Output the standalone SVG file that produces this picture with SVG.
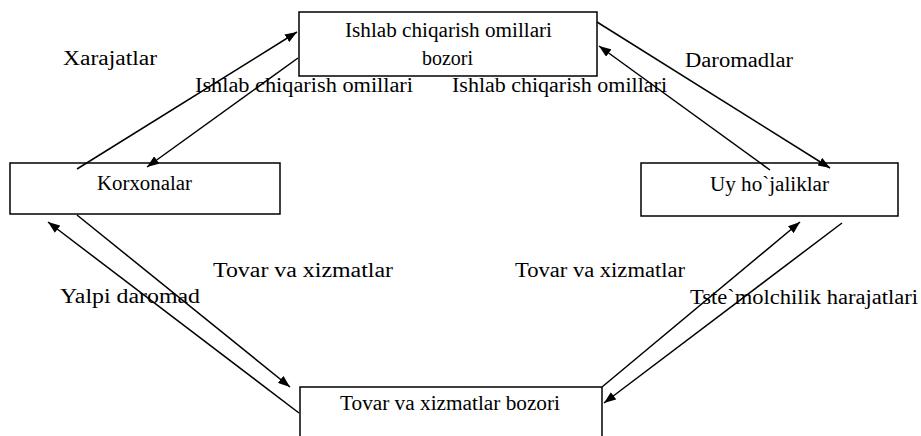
<svg xmlns="http://www.w3.org/2000/svg" width="921" height="436" viewBox="0 0 921 436">
<defs>
<style>
.box{fill:none;stroke:#000;stroke-width:1.5}
.t{font-family:"Liberation Serif","Times New Roman",serif;font-size:20px;fill:#000}
.c{stroke:#000;stroke-width:1.5;fill:none}
</style>
<marker id="ah" markerUnits="userSpaceOnUse" markerWidth="13" markerHeight="9" refX="12" refY="4.5" orient="auto">
<path d="M0,0 L12,4.5 L0,9 z" fill="#000"/>
</marker>
</defs>
<rect width="921" height="436" fill="#fff"/>
<g id="node-top">
<rect class="box" x="299" y="12" width="298" height="64"/>
<text class="t" x="345" y="37" textLength="207" lengthAdjust="spacingAndGlyphs">Ishlab chiqarish omillari</text>
<text class="t" x="422" y="65" textLength="51" lengthAdjust="spacingAndGlyphs">bozori</text>
</g>
<g id="node-korxonalar">
<rect class="box" x="10" y="163" width="270" height="51"/>
<text class="t" x="97" y="190" textLength="95" lengthAdjust="spacingAndGlyphs">Korxonalar</text>
</g>
<g id="node-uy">
<rect class="box" x="641" y="163" width="257" height="53"/>
<text class="t" x="710" y="191" textLength="119" lengthAdjust="spacingAndGlyphs">Uy ho`jaliklar</text>
</g>
<g id="node-bottom">
<rect class="box" x="300" y="387" width="302" height="60"/>
<text class="t" x="340" y="410" textLength="220" lengthAdjust="spacingAndGlyphs">Tovar va xizmatlar bozori</text>
</g>
<g id="connectors">
<line class="c" x1="77" y1="169" x2="297" y2="32" marker-end="url(#ah)"/>
<line class="c" x1="298" y1="58" x2="147" y2="167" marker-end="url(#ah)"/>
<line class="c" x1="597" y1="22" x2="830" y2="168" marker-end="url(#ah)"/>
<line class="c" x1="770" y1="170" x2="599" y2="46" marker-end="url(#ah)"/>
<line class="c" x1="77" y1="215" x2="290" y2="387" marker-end="url(#ah)"/>
<line class="c" x1="299" y1="413" x2="48" y2="222" marker-end="url(#ah)"/>
<line class="c" x1="602" y1="387" x2="800" y2="222" marker-end="url(#ah)"/>
<line class="c" x1="842" y1="223" x2="604" y2="403" marker-end="url(#ah)"/>
</g>
<g id="labels">
<text class="t" x="63" y="65" textLength="94" lengthAdjust="spacingAndGlyphs">Xarajatlar</text>
<text class="t" x="685" y="67" textLength="108" lengthAdjust="spacingAndGlyphs">Daromadlar</text>
<text class="t" x="195" y="92" textLength="218" lengthAdjust="spacingAndGlyphs">Ishlab chiqarish omillari</text>
<text class="t" x="452" y="92" textLength="215" lengthAdjust="spacingAndGlyphs">Ishlab chiqarish omillari</text>
<text class="t" x="213" y="277" textLength="180" lengthAdjust="spacingAndGlyphs">Tovar va xizmatlar</text>
<text class="t" x="515" y="277" textLength="170" lengthAdjust="spacingAndGlyphs">Tovar va xizmatlar</text>
<text class="t" x="60" y="303" textLength="140" lengthAdjust="spacingAndGlyphs">Yalpi daromad</text>
<text class="t" x="690" y="304" textLength="228" lengthAdjust="spacingAndGlyphs">Tste`molchilik harajatlari</text>
</g>
</svg>
